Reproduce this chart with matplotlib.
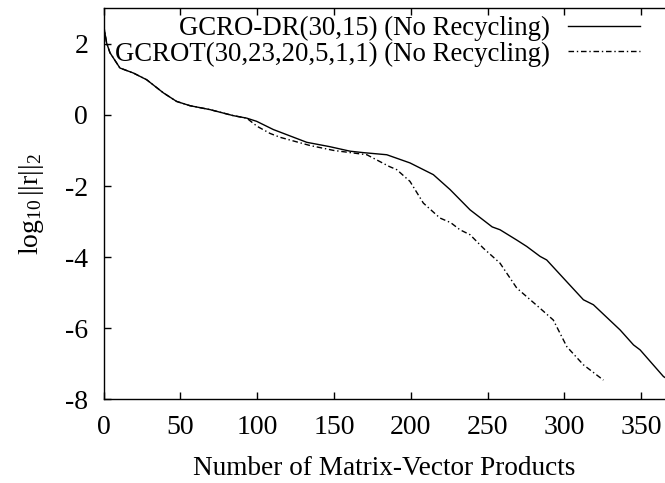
import matplotlib
matplotlib.use("Agg")
import matplotlib.pyplot as plt

# Data
gcrodr_x = [0, 2, 4.2, 10.7, 19.4, 28.1, 39, 47.6, 56.3, 69.3, 84.5, 93.2, 99.7, 110.5,
            132.3, 147, 160.5, 169, 184.4, 199.5, 214.7, 225.6, 238.6, 253, 258.1, 269,
            275.5, 284.2, 288.5, 300, 312.4, 318.9, 336.3, 345, 349.3, 364.5, 366]
gcrodr_y = [2.55, 2.03, 1.75, 1.32, 1.18, 0.99, 0.62, 0.38, 0.26, 0.15, -0.02, -0.09,
            -0.18, -0.41, -0.77, -0.89, -1.02, -1.06, -1.12, -1.35, -1.68, -2.1, -2.67,
            -3.15, -3.23, -3.52, -3.7, -3.98, -4.08, -4.62, -5.2, -5.34, -6.05, -6.47,
            -6.61, -7.36, -7.4]

gcrot_x = [0, 2, 4.2, 10.7, 19.4, 28.1, 39, 47.6, 56.3, 69.3, 84.5, 93.2, 100, 108.4,
           115, 134.4, 150, 171.4, 186, 190.9, 199.5, 208.2, 219, 226, 232, 238.6, 247.3,
           258.1, 269, 284.2, 292.8, 301.6, 312.4, 325.4]
gcrot_y = [2.55, 2.03, 1.75, 1.32, 1.18, 0.99, 0.62, 0.38, 0.26, 0.15, -0.02, -0.09,
           -0.32, -0.52, -0.63, -0.86, -1.0, -1.12, -1.45, -1.54, -1.87, -2.48, -2.9,
           -3.03, -3.23, -3.37, -3.75, -4.17, -4.87, -5.44, -5.77, -6.52, -7.03, -7.46]

labels = ["GCRO-DR(30,15) (No Recycling)", "GCROT(30,23,20,5,1,1) (No Recycling)"]
xticks = [0, 50, 100, 150, 200, 250, 300, 350]
yticks = [-8, -6, -4, -2, 0, 2]

plt.rcParams['font.family'] = ['Liberation Serif', 'DejaVu Serif']
plt.rcParams['mathtext.fontset'] = 'custom'
plt.rcParams['mathtext.rm'] = 'Liberation Serif'
plt.rcParams['mathtext.it'] = 'Liberation Serif'

FS = 20
LFS = 19.3
fig = plt.figure(figsize=(6.65, 4.83), dpi=100)
W, H = 665, 483
left, right, top, bottom = 103.5, 665, 8.3, 399.3
ax = fig.add_axes([left / W, 1 - bottom / H, (right - left) / W, (bottom - top) / H])

ax.plot(gcrodr_x, gcrodr_y, color='black', lw=1.0, label=labels[0])
ax.plot(gcrot_x, gcrot_y, color='black', lw=1.0, linestyle=(0, (4, 2, 1, 2)), label=labels[1])

ax.set_xlim(0, 365.5)
ax.set_ylim(-8, 3.0)
ax.set_xticks(xticks)
ax.set_yticks(yticks)
ax.set_yticklabels([str(v) for v in yticks])
ax.tick_params(direction='in', length=5, width=1, labelsize=FS, top=True, right=False,
               pad=11)
ax.tick_params(axis='x', pad=11)
ax.spines['right'].set_visible(False)
for s in ['left', 'bottom', 'top']:
    ax.spines[s].set_linewidth(1.0)

ax.set_xlabel("Number of Matrix-Vector Products", fontsize=19.6, labelpad=12)
ax.set_ylabel(r"$\mathrm{log}_{10}\,||\mathrm{r}||_2$", fontsize=FS, labelpad=14)

ax.legend(loc='upper right', bbox_to_anchor=((640 - left) / (right - left), 1 - (16 - top) / (bottom - top)),
          frameon=False, markerfirst=False, fontsize=LFS, handlelength=2.69,
          handletextpad=0.67, labelspacing=0.02, borderpad=0, borderaxespad=0)

fig.savefig("out.png", dpi=100)
